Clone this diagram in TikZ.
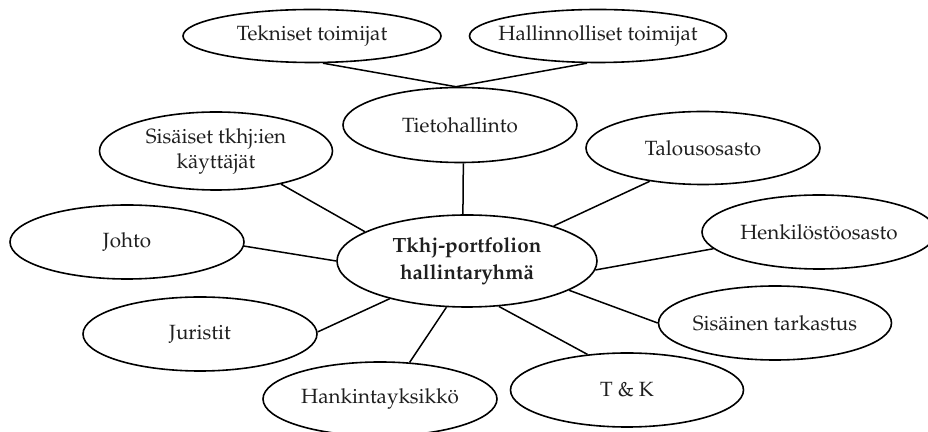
\documentclass[tikz,border=0pt]{standalone}
\usepackage[T1]{fontenc}
\usepackage{mathpazo}
\usetikzlibrary{shapes.geometric}
\begin{document}
\begin{tikzpicture}[x=0.5pt,y=-0.5pt,
  oval/.style={ellipse,draw=black,line width=0.8pt,inner ysep=0pt,inner xsep=-15pt,
    align=center,font=\fontsize{10.3}{12.5}\selectfont,text=black!88},
  link/.style={draw=black,line width=0.75pt}]
\useasboundingbox (0,0) rectangle (928,432);

% centre and the groups around it
\node[oval,minimum width=130pt,minimum height=46pt,
  font=\fontsize{10.3}{13.5}\selectfont\bfseries] (cen) at (467,261)
  {Tkhj-portfolion\\hallintaryhmä};
\node[oval,minimum width=129pt,minimum height=26.5pt] (tek) at (312,36) {Tekniset toimijat};
\node[oval,minimum width=128.5pt,minimum height=26.5pt] (hal) at (598,36) {Hallinnolliset toimijat};
\node[oval,minimum width=117pt,minimum height=37.5pt] (tie) at (460,125) {Tietohallinto};
\node[oval,minimum width=116.5pt,minimum height=39pt] (sis) at (216,151) {Sisäiset tkhj:ien\\käyttäjät};
\node[oval,minimum width=117pt,minimum height=37pt] (joh) at (127,242) {Johto};
\node[oval,minimum width=117pt,minimum height=37pt] (jur) at (200,334) {Juristit};
\node[oval,minimum width=117pt,minimum height=37pt] (han) at (380,399) {Hankintayksikkö};
\node[oval,minimum width=116.5pt,minimum height=37pt] (tk) at (627,390) {T \& K};
\node[oval,minimum width=116.5pt,minimum height=37pt] (str) at (775,323) {Sisäinen tarkastus};
\node[oval,minimum width=117pt,minimum height=37pt] (hen) at (819,232) {Henkilöstöosasto};
\node[oval,minimum width=117pt,minimum height=36.5pt] (tal) at (703,148) {Talousosasto};

% connectors
\coordinate (apex) at (tie.96);
\draw[link] (tek.292) -- (apex) -- (hal.248);
\draw[link] (tie.275) -- (cen.95);
\draw[link] (sis.333) -- (cen.164);
\draw[link] (joh.358) -- (cen.180);
\draw[link] (jur.1) -- (cen.206.6);
\draw[link] (han.51) -- (cen.246.5);
\draw[link] (tk.138.8) -- (cen.305);
\draw[link] (str.180) -- (cen.344);
\draw[link] (hen.189.8) -- (cen.356.5);
\draw[link] (tal.212) -- (cen.22.2);
\end{tikzpicture}
\end{document}
